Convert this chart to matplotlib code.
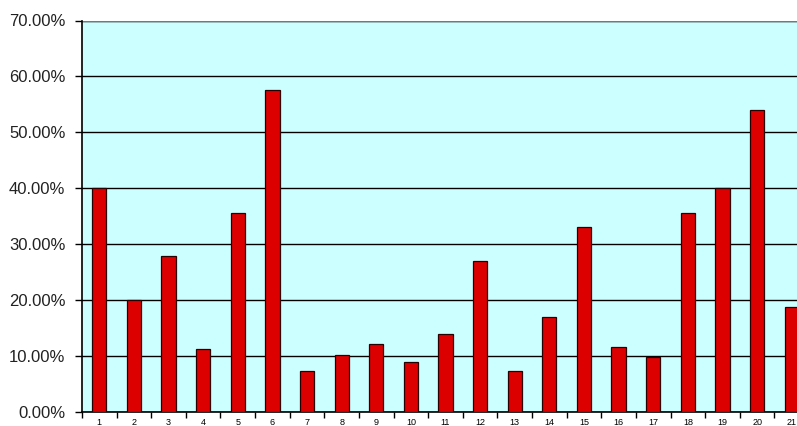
import numpy as np
import matplotlib.pyplot as plt
from matplotlib.ticker import FuncFormatter

# bar values in percent
cats = [str(i) for i in range(1, 22)]
vals = [40.0, 20.0, 27.8, 11.1, 35.6, 57.6, 7.2, 10.1, 12.1, 8.8, 13.9,
        27.0, 7.2, 16.9, 33.0, 11.6, 9.7, 35.6, 40.0, 53.9, 18.7]

plt.rcParams['font.family'] = ['Liberation Sans', 'DejaVu Sans']

fig = plt.figure(figsize=(7.97, 4.26), dpi=100)
# plot area runs off the right edge like the original screenshot
ax = fig.add_axes([82/797, 14.5/426, 727/797, 391/426])
ax.set_facecolor('#CCFFFF')

x = np.arange(1, len(vals) + 1)
ax.bar(x, vals, width=0.41, color='#DD0000', edgecolor='#2a0000', linewidth=0.9, zorder=3)

ax.set_xlim(0.5, len(vals) + 0.5)
ax.set_ylim(0, 70)
ax.set_yticks(np.arange(0, 71, 10))
ax.yaxis.set_major_formatter(FuncFormatter(lambda v, p: '%.2f%%' % v))
ax.yaxis.grid(True, color='black', linewidth=1.0, zorder=1)
ax.tick_params(axis='y', direction='out', length=5, width=1, labelsize=12, pad=7, labelcolor='#222222')

# category boundaries as ticks, labels centred under bars
ax.set_xticks(np.arange(0.5, len(vals) + 1, 1))
ax.set_xticklabels([])
ax.set_xticks(x, minor=True)
ax.set_xticklabels(cats, minor=True, fontsize=6.5)
ax.tick_params(axis='x', which='major', direction='out', length=4, width=1)
ax.tick_params(axis='x', which='minor', length=0, pad=5)

for s in ['top', 'right']:
    ax.spines[s].set_visible(False)
ax.spines['left'].set_linewidth(1.2)
ax.spines['bottom'].set_linewidth(1.2)
ax.axhline(70, color='#777777', linewidth=1.0, zorder=2)

fig.savefig('out.png', dpi=100)
